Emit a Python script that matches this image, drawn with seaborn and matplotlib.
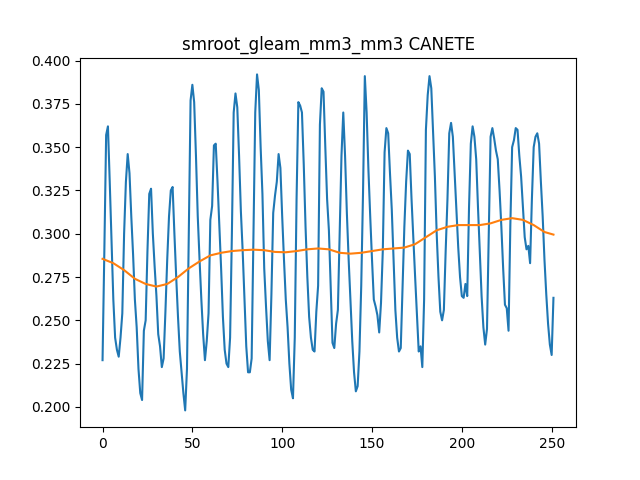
import matplotlib
matplotlib.use("Agg")
import matplotlib.pyplot as plt
import seaborn as sns

# soil moisture series, one value per step
soil_moisture = [
    0.227, 0.290, 0.357, 0.362, 0.330, 0.295, 0.262, 0.240, 0.233, 0.229,
    0.240, 0.254, 0.300, 0.330, 0.346, 0.335, 0.310, 0.288, 0.262, 0.246,
    0.222, 0.208, 0.204, 0.244, 0.250, 0.290, 0.323, 0.326, 0.300, 0.281,
    0.264, 0.242, 0.235, 0.223, 0.228, 0.255, 0.285, 0.310, 0.325, 0.327,
    0.300, 0.275, 0.252, 0.232, 0.220, 0.208, 0.198, 0.222, 0.300, 0.377,
    0.386, 0.376, 0.345, 0.310, 0.285, 0.262, 0.242, 0.227, 0.238, 0.254,
    0.308, 0.316, 0.351, 0.352, 0.330, 0.305, 0.280, 0.252, 0.233, 0.225,
    0.223, 0.240, 0.300, 0.370, 0.381, 0.373, 0.345, 0.313, 0.290, 0.262,
    0.235, 0.220, 0.220, 0.228, 0.300, 0.370, 0.392, 0.383, 0.350, 0.323,
    0.280, 0.258, 0.238, 0.227, 0.265, 0.312, 0.322, 0.330, 0.346, 0.338,
    0.310, 0.285, 0.262, 0.246, 0.225, 0.210, 0.205, 0.240, 0.320, 0.376,
    0.374, 0.370, 0.340, 0.304, 0.275, 0.252, 0.240, 0.233, 0.232, 0.255,
    0.270, 0.363, 0.384, 0.382, 0.350, 0.320, 0.302, 0.270, 0.237, 0.234,
    0.248, 0.256, 0.300, 0.345, 0.370, 0.345, 0.312, 0.285, 0.262, 0.238,
    0.220, 0.209, 0.212, 0.232, 0.270, 0.324, 0.391, 0.370, 0.337, 0.310,
    0.285, 0.262, 0.258, 0.253, 0.243, 0.260, 0.290, 0.347, 0.361, 0.358,
    0.335, 0.314, 0.285, 0.256, 0.240, 0.232, 0.234, 0.270, 0.304, 0.330,
    0.348, 0.346, 0.320, 0.297, 0.275, 0.254, 0.232, 0.235, 0.223, 0.262,
    0.360, 0.380, 0.391, 0.384, 0.358, 0.333, 0.300, 0.275, 0.255, 0.250,
    0.256, 0.290, 0.320, 0.358, 0.364, 0.356, 0.335, 0.315, 0.292, 0.275,
    0.264, 0.263, 0.271, 0.264, 0.315, 0.352, 0.362, 0.356, 0.343, 0.315,
    0.290, 0.264, 0.246, 0.236, 0.245, 0.300, 0.356, 0.361, 0.355, 0.348,
    0.343, 0.325, 0.304, 0.280, 0.259, 0.257, 0.244, 0.305, 0.350, 0.354,
    0.361, 0.360, 0.345, 0.333, 0.315, 0.298, 0.291, 0.293, 0.283, 0.320,
    0.350, 0.356, 0.358, 0.352, 0.330, 0.310, 0.285, 0.265, 0.248, 0.236,
    0.230, 0.263,
]
steps = list(range(len(soil_moisture)))

# smoothed trend, sampled along the series
trend_steps = [0, 6, 12, 18, 24, 30, 36, 42, 48, 54, 60, 66, 72, 78, 84, 90,
               96, 102, 108, 114, 120, 126, 132, 138, 144, 150, 156, 162, 168,
               174, 180, 186, 192, 198, 204, 210, 216, 222, 228, 234, 240, 246, 251]
trend = [0.2855, 0.283, 0.279, 0.274, 0.271, 0.2695, 0.271, 0.275, 0.280, 0.284,
         0.2875, 0.289, 0.290, 0.2905, 0.2908, 0.2905, 0.2895, 0.2893, 0.290,
         0.291, 0.2915, 0.291, 0.289, 0.2885, 0.289, 0.290, 0.291, 0.2915,
         0.292, 0.294, 0.298, 0.302, 0.304, 0.305, 0.305, 0.305, 0.306, 0.308,
         0.309, 0.308, 0.305, 0.301, 0.2995]

fig, ax = plt.subplots(figsize=(6.4, 4.8), dpi=100)
sns.lineplot(x=steps, y=soil_moisture, color="C0", ax=ax)
sns.lineplot(x=trend_steps, y=trend, color="C1", ax=ax)
ax.set_title("smroot_gleam_mm3_mm3 CANETE")
fig.savefig("out.png", dpi=100)
